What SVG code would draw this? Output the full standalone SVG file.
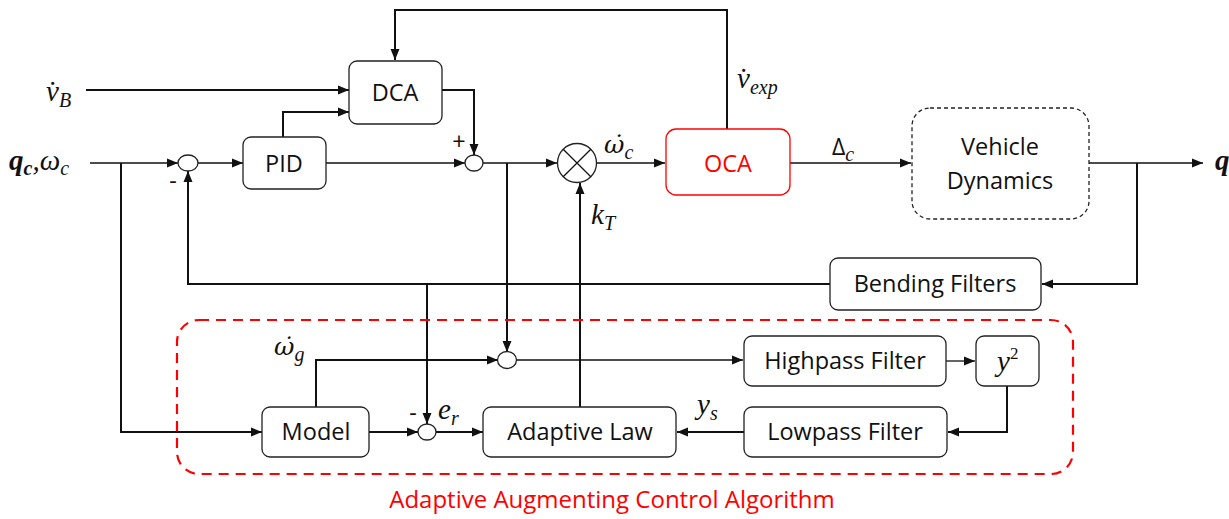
<svg xmlns="http://www.w3.org/2000/svg" width="1229" height="519" viewBox="0 0 1229 519">
<style>
.box{fill:#fff;stroke:#222;stroke-width:1.3}
.lbl{font-family:"Open Sans","Liberation Sans",sans-serif;font-size:23.5px;fill:#111;text-anchor:middle}
.math{font-family:"Liberation Serif","DejaVu Serif",serif;font-style:italic;font-size:29px;fill:#111}
.sub{font-size:20px}
.om{font-family:"DejaVu Serif",serif;font-size:25px}
.w{fill:none;stroke:#111;stroke-width:2}
.t{fill:none;stroke:#111;stroke-width:1.3}
.sum{fill:#fff;stroke:#222;stroke-width:1.3}
</style>
<defs>
<marker id="a" markerUnits="userSpaceOnUse" markerWidth="12" markerHeight="10" refX="11" refY="5" orient="auto">
<path d="M0,0.5 L11,5 L0,9.5 z" fill="#111"/>
</marker>
</defs>
<g id="connectors">
<path class="w" d="M86,90 H349" marker-end="url(#a)"/>
<path class="w" d="M283,137 V112 H349" marker-end="url(#a)"/>
<path class="t" d="M90,163 H178" marker-end="url(#a)"/>
<path class="w" d="M121,163 V432 H262" marker-end="url(#a)"/>
<path class="t" d="M198,163 H243" marker-end="url(#a)"/>
<path class="t" d="M326,163 H465" marker-end="url(#a)"/>
<path class="w" d="M442,90 H474 V155" marker-end="url(#a)"/>
<path class="t" d="M483,163 H557" marker-end="url(#a)"/>
<path class="w" d="M507,163 V352" marker-end="url(#a)"/>
<path class="t" d="M597,163 H665" marker-end="url(#a)"/>
<path class="t" d="M790,163 H911" marker-end="url(#a)"/>
<path class="w" d="M727,129 V10 H395 V60" marker-end="url(#a)"/>
<path class="t" d="M1089,163 H1203" marker-end="url(#a)"/>
<path class="w" d="M1137,163 V284 H1042" marker-end="url(#a)"/>
<path class="w" d="M830,284 H188 V171" marker-end="url(#a)"/>
<path class="w" d="M427,284 V424" marker-end="url(#a)"/>
<path class="w" d="M580,407 V183" marker-end="url(#a)"/>
<path class="w" d="M316,407 V360 H498" marker-end="url(#a)"/>
<path class="w" d="M369,432 H418" marker-end="url(#a)"/>
<path class="w" d="M436,432 H483" marker-end="url(#a)"/>
<path class="t" d="M516,360 H743" marker-end="url(#a)"/>
<path class="t" d="M946,361 H975" marker-end="url(#a)"/>
<path class="w" d="M1007,386 V432 H948" marker-end="url(#a)"/>
<path class="w" d="M744,432 H677" marker-end="url(#a)"/>
</g>
<g id="aac-region">
<rect x="177" y="320" width="896" height="154" rx="22" fill="none" stroke="#f00" stroke-width="2.2" stroke-dasharray="10,7"/>
<text x="612" y="508" class="lbl" style="fill:#f00;font-size:24px">Adaptive Augmenting Control Algorithm</text>
</g>
<g id="dca"><rect class="box" x="349" y="61" width="93" height="63" rx="8"/><text class="lbl" x="395" y="101">DCA</text></g>
<g id="pid"><rect class="box" x="243" y="137" width="83" height="52" rx="8"/><text class="lbl" x="284" y="172">PID</text></g>
<g id="oca"><rect x="666" y="129" width="124" height="66" rx="10" fill="#fff" stroke="#f00" stroke-width="1.3"/><text class="lbl" x="728" y="172" style="fill:#f00">OCA</text></g>
<g id="vehicle-dynamics"><rect x="912" y="108" width="177" height="111" rx="18" fill="#fff" stroke="#222" stroke-width="1.3" stroke-dasharray="4,3"/><text class="lbl" x="1000" y="155">Vehicle</text><text class="lbl" x="1000" y="189">Dynamics</text></g>
<g id="bending-filters"><rect class="box" x="830" y="258" width="211" height="52" rx="8"/><text class="lbl" x="935" y="292">Bending Filters</text></g>
<g id="model"><rect class="box" x="262" y="407" width="107" height="50" rx="8"/><text class="lbl" x="316" y="440">Model</text></g>
<g id="adaptive-law"><rect class="box" x="483" y="407" width="193" height="50" rx="8"/><text class="lbl" x="580" y="440">Adaptive Law</text></g>
<g id="highpass"><rect class="box" x="744" y="336" width="202" height="50" rx="8"/><text class="lbl" x="845" y="369">Highpass Filter</text></g>
<g id="square"><rect class="box" x="976" y="336" width="63" height="50" rx="8"/><text class="math" x="997" y="371">y<tspan font-style="normal" font-size="17" dy="-12">2</tspan></text></g>
<g id="lowpass"><rect class="box" x="744" y="407" width="203" height="50" rx="8"/><text class="lbl" x="845" y="440">Lowpass Filter</text></g>
<g id="sum1"><ellipse class="sum" cx="188" cy="163" rx="10" ry="8"/></g>
<g id="sum2"><ellipse class="sum" cx="474" cy="163" rx="9" ry="8"/></g>
<g id="mult"><circle class="sum" cx="577" cy="163" r="19.5"/><path class="t" d="M563.2,149.2 L590.8,176.8 M590.8,149.2 L563.2,176.8" stroke-width="1"/></g>
<g id="sum3"><ellipse class="sum" cx="507" cy="360" rx="9.5" ry="8.5"/></g>
<g id="sum4"><ellipse class="sum" cx="427" cy="432" rx="9" ry="8"/></g>
<g id="labels">
<text class="math" x="46" y="101">v̇<tspan class="sub" dy="6">B</tspan></text>
<text class="math" x="9" y="170" font-weight="bold">q<tspan class="sub" dy="5">c</tspan><tspan dy="-5" font-weight="normal">,ω</tspan><tspan class="sub" dy="5" font-weight="normal">c</tspan></text>
<text class="math" x="737" y="88">v̇<tspan class="sub" dy="6">exp</tspan></text>
<text class="math" x="604" y="153"><tspan class="om">ω̇</tspan><tspan class="sub" dy="6">c</tspan></text>
<text class="math" x="832" y="155"><tspan font-style="normal" font-family="Open Sans, sans-serif" font-size="23">Δ</tspan><tspan class="sub" dy="6">c</tspan></text>
<text class="math" x="591" y="224">k<tspan class="sub" dy="6">T</tspan></text>
<text class="math" x="274" y="355"><tspan class="om">ω̇</tspan><tspan class="sub" dy="6">g</tspan></text>
<text class="math" x="438" y="419">e<tspan class="sub" dy="6">r</tspan></text>
<text class="math" x="697" y="414">y<tspan class="sub" dy="6">s</tspan></text>
<text class="math" x="1215" y="170" font-weight="bold">q</text>
<text class="lbl" x="173" y="189" font-size="16">-</text>
<text class="lbl" x="459" y="150" font-size="16">+</text>
<text class="lbl" x="413" y="421" font-size="16">-</text>
</g>
</svg>
